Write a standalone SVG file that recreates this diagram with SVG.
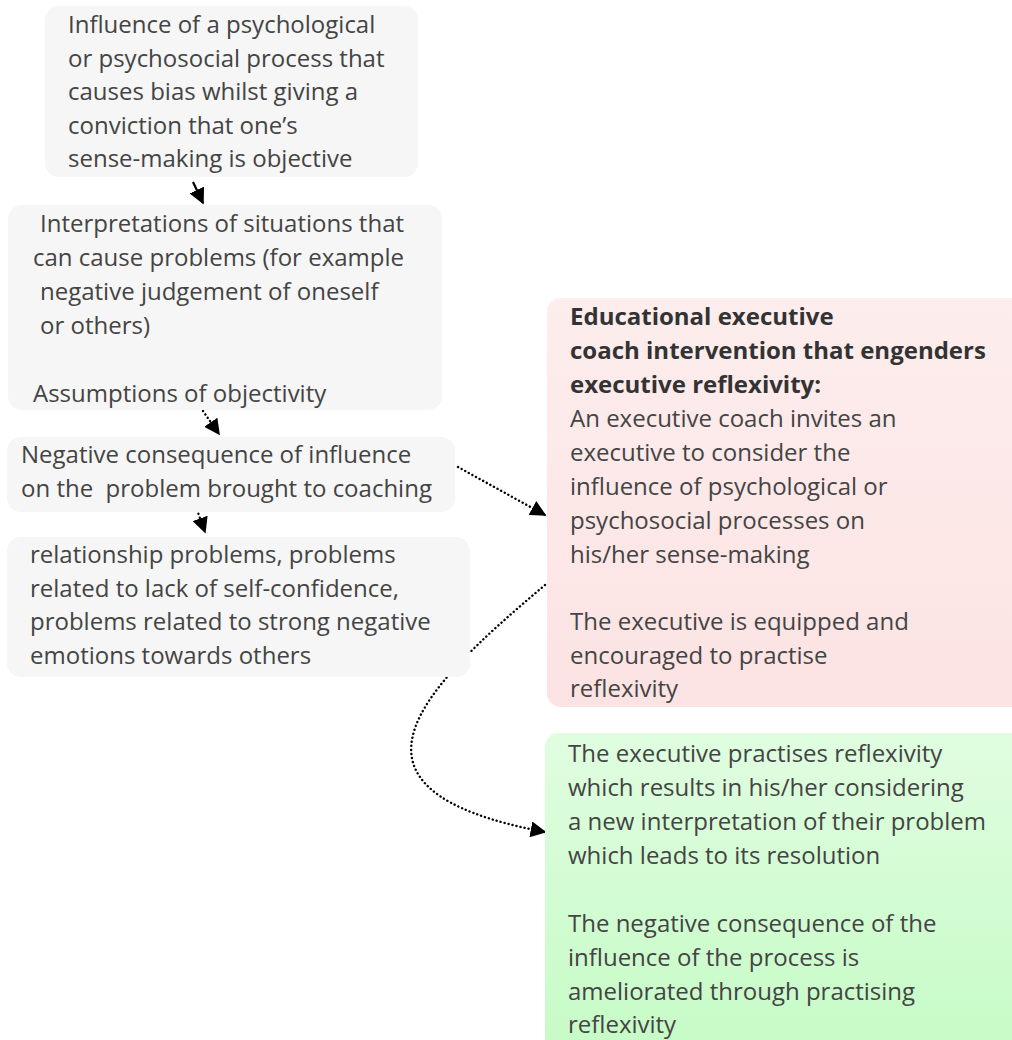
<svg xmlns="http://www.w3.org/2000/svg" width="1012" height="1040" viewBox="0 0 1012 1040">
  <defs>
    <linearGradient id="redFill" x1="0" y1="0" x2="0" y2="1">
      <stop offset="0" stop-color="#fdeded"/>
      <stop offset="1" stop-color="#fce3e3"/>
    </linearGradient>
    <linearGradient id="greenFill" x1="0" y1="0" x2="0" y2="1">
      <stop offset="0" stop-color="#e0fde0"/>
      <stop offset="1" stop-color="#c6fbc6"/>
    </linearGradient>
    <marker id="head" viewBox="0 0 10 10" refX="9" refY="5" markerWidth="16" markerHeight="16" markerUnits="userSpaceOnUse" orient="auto">
      <path d="M0,0 L10,5 L0,10 Z" fill="#000"/>
    </marker>
    <style>
      .box { fill: #f6f6f6; }
      .txt { font-family: "Open Sans", "Noto Sans", "DejaVu Sans", sans-serif; font-size: 24px; fill: #444444; }
      .bold { font-weight: bold; fill: #333333; }
      .pre { white-space: pre; }
      .solid { fill: none; stroke: #000; stroke-width: 2.2; }
      .dots { fill: none; stroke: #000; stroke-width: 2.4; stroke-linecap: round; stroke-dasharray: 0.1 4; }
    </style>
  </defs>

  <!-- connectors -->
  <g id="connectors">
    <path class="solid" d="M193,182 L203,203" marker-end="url(#head)"/>
    <path class="dots" d="M203,411 L219,434" marker-end="url(#head)"/>
    <path class="dots" d="M197,510 L205,532" marker-end="url(#head)"/>
    <path class="dots" d="M458,467 L545,515" marker-end="url(#head)"/>
    <path class="dots" d="M545,585 C420,690 320,790 545,832" marker-end="url(#head)"/>
  </g>

  <g id="node-influence">
    <rect class="box" x="45" y="6" width="373" height="171" rx="14"/>
    <text class="txt">
      <tspan x="68" y="33">Influence of a psychological</tspan>
      <tspan x="68" y="66.5">or psychosocial process that</tspan>
      <tspan x="68" y="100">causes bias whilst giving a</tspan>
      <tspan x="68" y="133.5">conviction that one’s</tspan>
      <tspan x="68" y="167">sense-making is objective</tspan>
    </text>
  </g>

  <g id="node-interpretations">
    <rect class="box" x="8" y="205" width="434" height="205" rx="14"/>
    <text class="txt">
      <tspan x="40" y="232">Interpretations of situations that</tspan>
      <tspan x="33" y="266">can cause problems (for example</tspan>
      <tspan x="40" y="300">negative judgement of oneself</tspan>
      <tspan x="40" y="334">or others)</tspan>
      <tspan x="33" y="402">Assumptions of objectivity</tspan>
    </text>
  </g>

  <g id="node-consequence">
    <rect class="box" x="7" y="437" width="448" height="75" rx="14"/>
    <text class="txt">
      <tspan x="21" y="463">Negative consequence of influence</tspan>
      <tspan class="pre" x="21" y="497">on the  problem brought to coaching</tspan>
    </text>
  </g>

  <g id="node-problems">
    <rect class="box" x="7" y="537" width="463" height="140" rx="14"/>
    <text class="txt">
      <tspan x="30" y="563">relationship problems, problems</tspan>
      <tspan x="30" y="597">related to lack of self-confidence,</tspan>
      <tspan x="30" y="630">problems related to strong negative</tspan>
      <tspan x="30" y="664">emotions towards others</tspan>
    </text>
  </g>

  <g id="node-intervention">
    <rect x="547" y="298" width="480" height="409" rx="14" fill="url(#redFill)"/>
    <text class="txt">
      <tspan class="bold" x="570" y="325">Educational executive</tspan>
      <tspan class="bold" x="570" y="359">coach intervention that engenders</tspan>
      <tspan class="bold" x="570" y="393">executive reflexivity:</tspan>
      <tspan x="570" y="427">An executive coach invites an</tspan>
      <tspan x="570" y="461">executive to consider the</tspan>
      <tspan x="570" y="495">influence of psychological or</tspan>
      <tspan x="570" y="529">psychosocial processes on</tspan>
      <tspan x="570" y="563">his/her sense-making</tspan>
      <tspan x="570" y="630">The executive is equipped and</tspan>
      <tspan x="570" y="664">encouraged to practise</tspan>
      <tspan x="570" y="697">reflexivity</tspan>
    </text>
  </g>

  <g id="node-outcome">
    <rect x="545" y="733" width="480" height="320" rx="14" fill="url(#greenFill)"/>
    <text class="txt">
      <tspan x="568" y="762">The executive practises reflexivity</tspan>
      <tspan x="568" y="796">which results in his/her considering</tspan>
      <tspan x="568" y="830">a new interpretation of their problem</tspan>
      <tspan x="568" y="864">which leads to its resolution</tspan>
      <tspan x="568" y="932">The negative consequence of the</tspan>
      <tspan x="568" y="966">influence of the process is</tspan>
      <tspan x="568" y="1000">ameliorated through practising</tspan>
      <tspan x="568" y="1033">reflexivity</tspan>
    </text>
  </g>
</svg>
